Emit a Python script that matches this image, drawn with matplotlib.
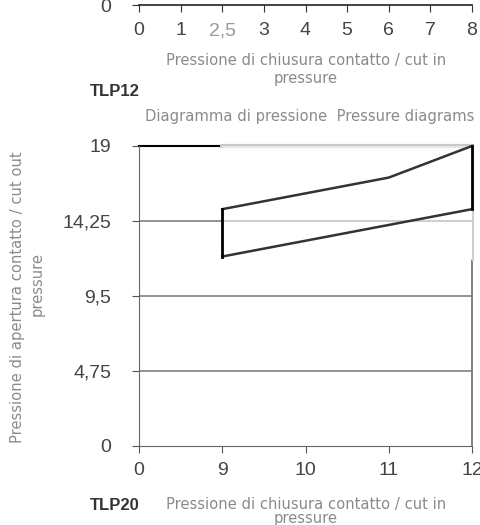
import matplotlib
matplotlib.use("Agg")
import matplotlib.pyplot as plt
from matplotlib.patches import Rectangle

plt.rcParams['font.family'] = ['Liberation Sans', 'DejaVu Sans']

# top chart (only its x axis is visible)
top_cats = ["0", "1", "2,5", "3", "4", "5", "6", "7", "8"]

# bottom chart TLP20
x_cats = ["0", "9", "10", "11", "12"]
y_ticks = [0, 4.75, 9.5, 14.25, 19]
y_tick_labels = ["0", "4,75", "9,5", "14,25", "19"]
upper_x = ["9", "11", "12"]
upper_y = [15, 17, 19]
lower_x = ["9", "11", "12"]
lower_y = [12, 14, 15]

W, H = 480, 525
fig = plt.figure(figsize=(4.8, 5.25), dpi=100)


def fx(px):
    return px / W


def fy(py):
    return 1 - py / H


label_grey = "#8a8a8a"
tick_grey = "#444444"
lab_font = dict(family="DejaVu Sans", fontsize=10.6, color=label_grey)

# ---- top chart: just the x axis at the top edge ----
ax1 = fig.add_axes([fx(139), fy(5), fx(333), 0.3])
ax1.set_xlim(0, len(top_cats) - 1)
ax1.set_ylim(0, 10)
ax1.set_xticks(range(len(top_cats)))
ax1.set_xticklabels(top_cats, fontsize=14, color=tick_grey)
ax1.get_xticklabels()[2].set_color("#9a9a9a")
ax1.set_yticks([0])
ax1.set_yticklabels(["0"], fontsize=14, color=tick_grey)
ax1.tick_params(axis="x", length=5, pad=7.5, color="#333333")
ax1.tick_params(axis="y", length=5, pad=15, color="#333333")
for s in ["top", "right", "left"]:
    ax1.spines[s].set_visible(False)
ax1.spines["bottom"].set_color("#222222")
ax1.spines["bottom"].set_linewidth(1.2)
ax1.patch.set_alpha(0)

fig.text(fx(306), fy(61), "Pressione di chiusura contatto / cut in",
         ha="center", va="center", **lab_font)
fig.text(fx(306), fy(78), "pressure", ha="center", va="center", **lab_font)
fig.text(fx(90), fy(91), "TLP12", ha="left", va="center",
         fontsize=12, fontweight="bold", color="#333333")
fig.text(fx(310), fy(116), "Diagramma di pressione  Pressure diagrams",
         ha="center", va="center", **lab_font)

# ---- bottom chart ----
ax = fig.add_axes([fx(139), fy(446), fx(333), fy(146) - fy(446)])
ax.set_xlim(0, len(x_cats) - 1)
ax.set_ylim(0, 19)
ax.set_xticks(range(len(x_cats)))
ax.set_xticklabels(x_cats, fontsize=14, color=tick_grey)
ax.set_yticks(y_ticks)
ax.set_yticklabels(y_tick_labels, fontsize=14, color=tick_grey)
ax.tick_params(axis="x", length=5, pad=6.5, color="#555555")
ax.tick_params(axis="y", length=5, pad=15, color="#555555")
ax.spines["top"].set_visible(False)
ax.spines["right"].set_visible(False)
ax.spines["left"].set_color("#666666")
ax.spines["bottom"].set_color("#666666")

# gridlines
for v in y_ticks[1:-1]:
    ax.axhline(v, color="#8a8a8a", lw=1.3, zorder=1)
ax.plot([0, 1], [19, 19], color="black", lw=1.5, clip_on=False, zorder=2)
ax.plot([1, 4], [19, 19], color="#c8c8c8", lw=3, clip_on=False, zorder=2)
ax.plot([4, 4], [0, 11.8], color="#777777", lw=1.3, clip_on=False, zorder=2)
ax.plot([4.01, 4.01], [11.8, 19], color="#cfcfcf", lw=1.5, clip_on=False, zorder=2)

# light overlay region behind the curves
ax.add_patch(Rectangle((1, 11.8), 3, 7.2, facecolor="white", alpha=0.55,
                       edgecolor="none", zorder=3))

ux = [x_cats.index(v) for v in upper_x]
lx = [x_cats.index(v) for v in lower_x]
ax.plot(ux, upper_y, color="#333333", lw=1.8, zorder=4, clip_on=False)
ax.plot(lx, lower_y, color="#333333", lw=1.8, zorder=4, clip_on=False)
ax.plot([ux[0], lx[0]], [upper_y[0], lower_y[0]], color="black", lw=2, zorder=5)
ax.plot([ux[-1], lx[-1]], [upper_y[-1], lower_y[-1]], color="black", lw=2,
        zorder=5, clip_on=False)

fig.text(fx(18), fy(297), "Pressione di apertura contatto / cut out",
         rotation=90, ha="center", va="center", **lab_font)
fig.text(fx(37), fy(284), "pressure", rotation=90, ha="center",
         va="center", **lab_font)

fig.text(fx(306), fy(504), "Pressione di chiusura contatto / cut in",
         ha="center", va="center", **lab_font)
fig.text(fx(306), fy(518), "pressure", ha="center", va="center", **lab_font)
fig.text(fx(90), fy(505), "TLP20", ha="left", va="center",
         fontsize=12, fontweight="bold", color="#333333")

fig.savefig("out.png", dpi=100)
